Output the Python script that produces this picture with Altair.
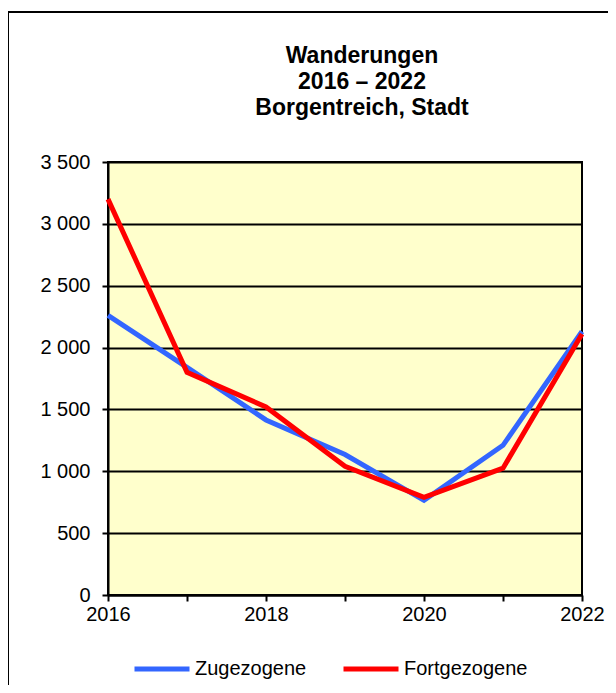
import altair as alt
import pandas as pd

years = [2016, 2017, 2018, 2019, 2020, 2021, 2022]
zugezogene = [2260, 1840, 1415, 1135, 765, 1210, 2130]
fortgezogene = [3200, 1800, 1520, 1040, 790, 1025, 2110]
series_names = ["Zugezogene", "Fortgezogene"]
series_colors = ["#3366FF", "#FF0000"]
y_ticks = [0, 500, 1000, 1500, 2000, 2500, 3000, 3500]
title_lines = ["Wanderungen", "2016 \u2013 2022", "Borgentreich, Stadt"]

rows = []
for i, yr in enumerate(years):
    rows.append({"Jahr": yr, "Wert": zugezogene[i], "Serie": series_names[0]})
    rows.append({"Jahr": yr, "Wert": fortgezogene[i], "Serie": series_names[1]})
df = pd.DataFrame(rows)

FONT = "Liberation Sans"
W, H = 474, 433

lines = alt.Chart(df).mark_line(strokeWidth=5, strokeJoin="miter").encode(
    x=alt.X("Jahr:Q",
            scale=alt.Scale(domain=[2016, 2022], nice=False, zero=False),
            axis=alt.Axis(values=years, title=None, grid=False,
                          labelExpr="datum.value % 2 == 0 ? datum.value : ''",
                          domainColor="black", domainWidth=2,
                          tickColor="black", tickWidth=2, tickSize=6,
                          labelFont=FONT, labelFontSize=20, labelColor="black",
                          labelPadding=3, labelFlush=False, labelOverlap=False)),
    y=alt.Y("Wert:Q",
            scale=alt.Scale(domain=[0, 3500], nice=False),
            axis=alt.Axis(values=y_ticks, title=None, grid=True,
                          gridColor="black", gridWidth=2, gridOpacity=1,
                          labelExpr="replace(format(datum.value, ','), ',', ' ')",
                          domainColor="black", domainWidth=2,
                          tickColor="black", tickWidth=2, tickSize=6,
                          labelFont=FONT, labelFontSize=20, labelColor="black",
                          labelPadding=12)),
    color=alt.Color("Serie:N",
                    scale=alt.Scale(domain=series_names, range=series_colors),
                    legend=alt.Legend(title=None, orient="none", direction="horizontal",
                                      legendX=24, legendY=477,
                                      symbolType="stroke", symbolSize=3025,
                                      symbolStrokeWidth=5,
                                      labelFont=FONT, labelFontSize=20,
                                      labelColor="black", labelOffset=3,
                                      columnPadding=26)),
    order="Jahr:Q",
)

title = alt.Chart(alt.Data(values=[{"a": 1}])).mark_text(
    font=FONT, fontSize=23, fontWeight="bold", color="black",
    align="center", baseline="alphabetic", lineHeight=26,
).encode(
    x=alt.value(254), y=alt.value(-99), text=alt.value(title_lines),
)

border = alt.Chart(alt.Data(values=[{"a": 1}])).mark_rect(
    fill=None, stroke="black", strokeWidth=2, clip=False
).encode(
    x=alt.value(-100), x2=alt.value(560),
    y=alt.value(-150), y2=alt.value(620),
)

chart = alt.layer(lines, title, border).properties(
    width=W, height=H,
    autosize=alt.AutoSizeParams(type="none"),
    padding={"left": 100, "top": 154, "right": 26, "bottom": 90},
    background="white",
).configure_view(
    fill="#FFFFCC", stroke="black", strokeWidth=2
)

chart.save("out.html", embed_options={"renderer": "svg", "actions": False})
